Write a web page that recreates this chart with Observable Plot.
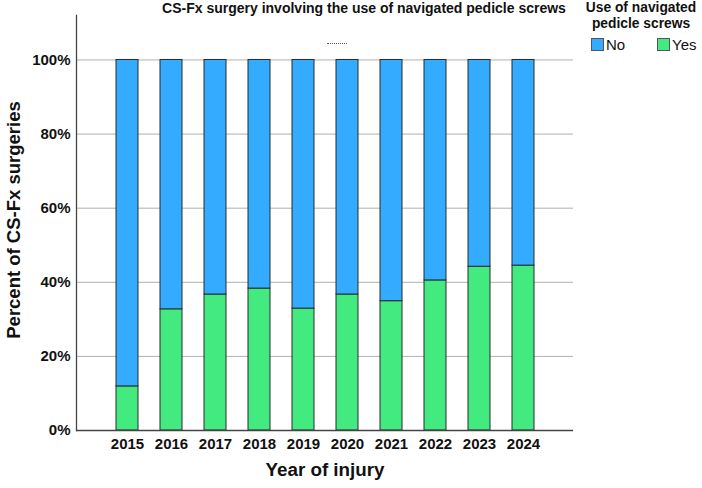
<!DOCTYPE html>
<html>
<head>
<meta charset="utf-8">
<script src="https://cdn.jsdelivr.net/npm/d3@7"></script>
<script src="https://cdn.jsdelivr.net/npm/@observablehq/plot@0.6"></script>
<style>
  body { margin: 0; background: #fff; font-family: "Liberation Sans", Arial, sans-serif; }
  #wrap { position: relative; width: 702px; height: 488px; overflow: hidden; }
  #wrap svg { position: absolute; left: 0; top: 0; }
  .title { position: absolute; left: 150px; top: 0px; width: 428px; text-align: center;
           font-weight: bold; font-size: 14px; color: #111; white-space: nowrap; }
  .legend-title { position: absolute; left: 580px; top: 0px; width: 122px; text-align: center;
                  font-weight: bold; font-size: 13.8px; line-height: 15.5px; color: #111; }
  .legend-item { position: absolute; top: 36px; font-size: 15px; color: #111; display: flex; align-items: center; }
  .legend-item span.sw { display: inline-block; width: 11px; height: 11px; border: 1px solid #555; margin-right: 2px; }
  .dots { position: absolute; left: 327px; top: 43px; width: 20px; border-top: 1px dotted #555; }
</style>
</head>
<body>
<div id="wrap">
  <div class="title">CS-Fx surgery involving the use of navigated pedicle screws</div>
  <div class="dots"></div>
</div>
<script>
// Year of injury
const years = ["2015", "2016", "2017", "2018", "2019", "2020", "2021", "2022", "2023", "2024"];
// Percent of CS-Fx surgeries with navigated pedicle screws (Yes) and without (No)
const yesPct = [11.9, 32.7, 36.7, 38.3, 32.9, 36.7, 34.9, 40.5, 44.2, 44.5];
const noPct  = [88.1, 67.3, 63.3, 61.7, 67.1, 63.3, 65.1, 59.5, 55.8, 55.5];
// Legend groups and their colours
const groups = ["No", "Yes"];
const groupColors = ["#33abff", "#42ea80"];
// Y-axis tick values (percent)
const yTicks = [0, 20, 40, 60, 80, 100];

const rows = [];
years.forEach((yr, i) => {
  rows.push({year: yr, group: "Yes", pct: yesPct[i]});
  rows.push({year: yr, group: "No", pct: noPct[i]});
});

const colorOf = new Map(groups.map((g, i) => [g, groupColors[i]]));

const chart = Plot.plot({
  width: 702,
  height: 488,
  marginLeft: 76,
  marginRight: 129,
  marginTop: 15,
  marginBottom: 58,
  style: {fontFamily: "'Liberation Sans', Arial, sans-serif", fontSize: "15px", color: "#111", background: "transparent"},
  x: {type: "band", domain: years, paddingInner: 0.51, paddingOuter: 0.79, label: null},
  y: {domain: [0, 112], label: null},
  marks: [
    Plot.ruleY(yTicks.filter(d => d > 0), {stroke: "#b0b0b0", strokeWidth: 1}),
    Plot.barY(rows, {
      x: "year",
      y: "pct",
      z: "group",
      order: ["Yes", "No"],
      fill: d => colorOf.get(d.group),
      stroke: "#2a2a2a",
      strokeWidth: 1
    }),
    Plot.ruleY([0], {stroke: "#444", strokeWidth: 1.3}),
    Plot.frame({anchor: "left", stroke: "#444", strokeWidth: 1.3}),
    Plot.axisY(yTicks, {tickSize: 0, tickPadding: 6, tickFormat: d => d + "%", fontWeight: "bold", fontSize: 15, label: null}),
    Plot.axisX({tickSize: 0, tickPadding: 8, fontWeight: "bold", fontSize: 15, label: null}),
    Plot.text(["Percent of CS-Fx surgeries"], {frameAnchor: "left", textAnchor: "middle", dx: -62, dy: -3, rotate: -90, fontSize: 18.5, fontWeight: "bold", fill: "#111"}),
    Plot.text(["Year of injury"], {frameAnchor: "bottom", textAnchor: "middle", dy: 45, fontSize: 18.8, fontWeight: "bold", fill: "#111"})
  ]
});

const wrap = document.getElementById("wrap");
wrap.appendChild(chart);

// Legend
const lt = document.createElement("div");
lt.className = "legend-title";
lt.innerHTML = "Use of navigated<br>pedicle screws";
wrap.appendChild(lt);
const legendLeft = [591, 657];
groups.forEach((g, i) => {
  const item = document.createElement("div");
  item.className = "legend-item";
  item.style.left = legendLeft[i] + "px";
  const sw = document.createElement("span");
  sw.className = "sw";
  sw.style.background = groupColors[i];
  item.appendChild(sw);
  item.appendChild(document.createTextNode(g));
  wrap.appendChild(item);
});
</script>
</body>
</html>
